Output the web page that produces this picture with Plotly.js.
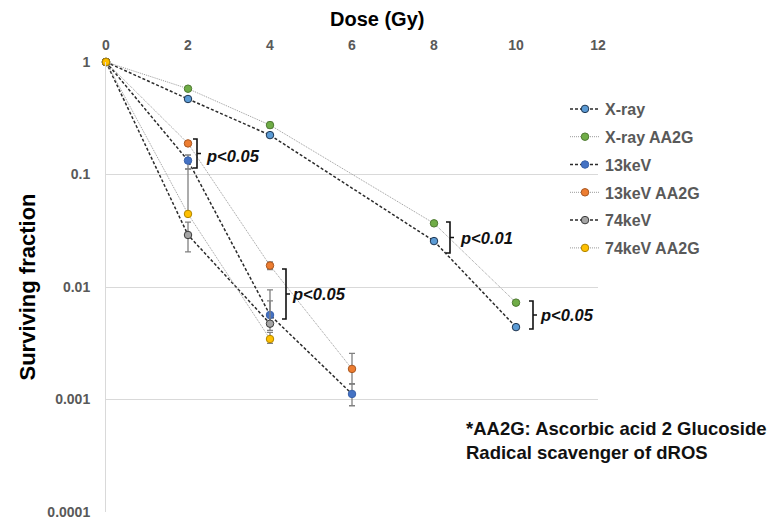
<!DOCTYPE html>
<html>
<head>
<meta charset="utf-8">
<script src="https://cdn.plot.ly/plotly-3.0.1.min.js"></script>
<style>html,body{margin:0;padding:0;background:#fff;}#chart{width:767px;height:522px;}</style>
</head>
<body>
<div id="chart"></div>
<script>
// ---- data ----
const doseXray = [0, 2, 4, 8, 10];
const sfXray = [1, 0.469, 0.224, 0.0256, 0.0044];
const errXray = [0, 0.01, 0.01, 0.001, 0.0002];

const doseXrayAA = [0, 2, 4, 8, 10];
const sfXrayAA = [1, 0.579, 0.275, 0.0368, 0.00726];
const errXrayAA = [0, 0.015, 0.015, 0.001, 0.0003];

const dose13 = [0, 2, 4, 6];
const sf13 = [1, 0.133, 0.00564, 0.00112];
const err13Plus = [0, 0.016, 0.0038, 0.00026];
const err13Minus = [0, 0.021, 0.001, 0.00024];

const dose13AA = [0, 2, 4, 6];
const sf13AA = [1, 0.189, 0.0155, 0.00187];
const err13AAPlus = [0, 0.006, 0.0012, 0.0007];
const err13AAMinus = [0, 0.006, 0.0012, 0.0005];

const dose74 = [0, 2, 4];
const sf74 = [1, 0.029, 0.00472];
const err74Plus = [0, 0.0088, 0.0028];
const err74Minus = [0, 0.0085, 0.0006];

const dose74AA = [0, 2, 4];
const sf74AA = [1, 0.0446, 0.00345];
const err74AAPlus = [0, 0.067, 0.0005];
const err74AAMinus = [0, 0, 0.0003];

const xTickVals = [0, 2, 4, 6, 8, 10, 12];
const yTickVals = [1, 0.1, 0.01, 0.001, 0.0001];
const yTickText = ["1", "0.1", "0.01", "0.001", "0.0001"];

// ---- styling ----
const FONT = "Liberation Sans, Arial, sans-serif";
const darkLine = {color: "#2b2b2b", width: 1.5, dash: "3px,2px"};
const greyLine = {color: "#9a9a9a", width: 1, dash: "1px,1px"};
const errStyle = {color: "#808080", thickness: 1.3, width: 3};

function tr(name, x, y, plus, minus, line, fill, edge) {
  return {
    type: "scatter", mode: "lines+markers", name: name, x: x, y: y,
    line: line, legendgroup: name,
    marker: {size: 7.5, color: fill, line: {color: edge, width: 1}},
    error_y: Object.assign({type: "data", symmetric: minus === null, array: plus,
                            arrayminus: minus === null ? undefined : minus, visible: true}, errStyle),
    cliponaxis: false
  };
}

const data = [
  tr("X-ray", doseXray, sfXray, errXray, null, darkLine, "#5b9bd5", "#1f3550"),
  tr("X-ray AA2G", doseXrayAA, sfXrayAA, errXrayAA, null, greyLine, "#70ad47", "#4f7a32"),
  tr("13keV", dose13, sf13, err13Plus, err13Minus, darkLine, "#4472c4", "#3a62aa"),
  tr("13keV AA2G", dose13AA, sf13AA, err13AAPlus, err13AAMinus, greyLine, "#ed7d31", "#a85620"),
  tr("74keV", dose74, sf74, err74Plus, err74Minus, darkLine, "#a5a5a5", "#3a3a3a"),
  tr("74keV AA2G", dose74AA, sf74AA, err74AAPlus, err74AAMinus, greyLine, "#ffc000", "#b08500")
];

// pixel -> paper helpers for annotation layout
const L = 106, R = 598, T = 62, B = 512;
const px = p => (p - L) / (R - L);
const py = p => 1 - (p - T) / (B - T);

function bracket(xp, top, bot) {
  const mid = (top + bot) / 2;
  return {
    type: "path", xref: "paper", yref: "paper",
    path: `M ${px(xp - 4)} ${py(top)} L ${px(xp)} ${py(top)} L ${px(xp)} ${py(bot)} L ${px(xp - 4)} ${py(bot)} M ${px(xp)} ${py(mid)} L ${px(xp + 4)} ${py(mid)}`,
    line: {color: "#111", width: 1.6}
  };
}
function ptext(xp, yp, txt) {
  return {xref: "paper", yref: "paper", x: px(xp), y: py(yp), xanchor: "left", yanchor: "middle",
          text: "<b><i>" + txt + "</i></b>", showarrow: false,
          font: {family: FONT, size: 16.5, color: "#111"}};
}

const layout = {
  width: 767, height: 522,
  margin: {l: L, r: 767 - R, t: T, b: 522 - B},
  paper_bgcolor: "#fff", plot_bgcolor: "#fff",
  font: {family: FONT},
  showlegend: true,
  xaxis: {
    side: "top", range: [0, 12], tickmode: "array", tickvals: xTickVals,
    showgrid: false, zeroline: false, showline: false, ticks: "",
    ticklabelstandoff: 8,
    tickfont: {family: FONT, size: 14, color: "#595959", weight: "bold"},
    automargin: false
  },
  yaxis: {
    type: "log", range: [-4, 0], tickmode: "array", tickvals: yTickVals, ticktext: yTickText,
    showgrid: true, gridcolor: "#d9d9d9", gridwidth: 1,
    showline: true, linecolor: "#d9d9d9", linewidth: 1, zeroline: false, ticks: "",
    ticklabelstandoff: 12,
    tickfont: {family: FONT, size: 14, color: "#595959", weight: "bold"},
    title: {text: "<b>Surviving fraction</b>", font: {family: FONT, size: 22, color: "#000"}, standoff: 5},
    automargin: false
  },
  legend: {
    x: px(565), y: py(92), xanchor: "left", yanchor: "top",
    font: {family: FONT, size: 16, color: "#595959", weight: "bold"},
    tracegroupgap: 4, bgcolor: "rgba(0,0,0,0)", itemwidth: 30
  },
  shapes: [
    bracket(197, 139, 168),
    bracket(286, 269, 319),
    bracket(450, 222, 253),
    bracket(533, 301, 329)
  ],
  annotations: [
    {xref: "paper", yref: "paper", x: px(377), y: py(19), xanchor: "center", yanchor: "middle",
     text: "<b>Dose (Gy)</b>", showarrow: false,
     font: {family: FONT, size: 20, color: "#000"}},
    ptext(204, 156, "p<0.05"),
    ptext(290, 294, "p<0.05"),
    ptext(458, 238, "p<0.01"),
    ptext(538, 315, "p<0.05"),
    {xref: "paper", yref: "paper", x: px(464), y: py(428), xanchor: "left", yanchor: "middle",
     text: "<b>*AA2G: Ascorbic acid 2 Glucoside</b>", showarrow: false,
     font: {family: FONT, size: 18.5, color: "#111"}},
    {xref: "paper", yref: "paper", x: px(464), y: py(452), xanchor: "left", yanchor: "middle",
     text: "<b>Radical scavenger of dROS</b>", showarrow: false,
     font: {family: FONT, size: 18.5, color: "#111"}}
  ]
};

Plotly.newPlot("chart", data, layout, {displayModeBar: false, responsive: false});
</script>
</body>
</html>
